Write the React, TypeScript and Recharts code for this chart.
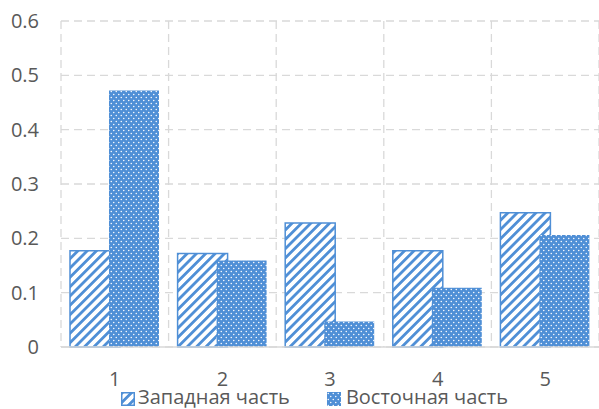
import React from "react";
import { BarChart, Bar, XAxis, YAxis, CartesianGrid, Legend } from "recharts";

const categories = ["1", "2", "3", "4", "5"];
const westValues = [0.177, 0.172, 0.228, 0.177, 0.247];
const eastValues = [0.472, 0.159, 0.047, 0.109, 0.206];
const yTicks = [0, 0.1, 0.2, 0.3, 0.4, 0.5, 0.6];
const seriesNames = ["Западная часть", "Восточная часть"];

const data = categories.map((c, i) => ({ cat: c, west: westValues[i], east: eastValues[i] }));

const BLUE = "#4f8fd6";
const TEXT = "#595959";
const FONT = "'Open Sans', 'Noto Sans', sans-serif";
const FS = 20;

const Patterns = () => (
  <svg width={0} height={0} style={{ position: "absolute" }}>
    <defs>
      <pattern id="hatch" patternUnits="userSpaceOnUse" width={6.6} height={6.6} patternTransform="rotate(45)">
        <rect width={6.6} height={6.6} fill="#ffffff" />
        <rect x={0} y={0} width={2.8} height={6.6} fill={BLUE} />
      </pattern>
      <pattern id="dots" patternUnits="userSpaceOnUse" width={5} height={6}>
        <rect width={5} height={6} fill={BLUE} />
        <circle cx={1.25} cy={1.5} r={0.75} fill="#ffffff" />
        <circle cx={3.75} cy={4.5} r={0.75} fill="#ffffff" />
      </pattern>
    </defs>
  </svg>
);

const LegendContent = () => (
  <div style={{ display: "flex", alignItems: "center", fontFamily: FONT, fontSize: FS, color: TEXT, lineHeight: "22px", height: 22, whiteSpace: "nowrap" }}>
    <svg width={14} height={14} style={{ marginRight: 3, marginTop: 3 }}>
      <rect x={0.75} y={0.75} width={12.5} height={12.5} fill="url(#hatch)" stroke={BLUE} strokeWidth={1.5} />
    </svg>
    <span style={{ marginRight: 37 }}>{seriesNames[0]}</span>
    <svg width={14} height={14} style={{ marginRight: 5, marginTop: 3 }}>
      <rect x={0} y={0} width={14} height={14} fill="url(#dots)" />
    </svg>
    <span>{seriesNames[1]}</span>
  </div>
);

export default function App() {
  return (
    <div style={{ position: "absolute", left: 0, top: 0, width: 599, height: 409, background: "#fff" }}>
      <Patterns />
      <BarChart
        width={599}
        height={409}
        data={data}
        margin={{ top: 21, right: 0, left: 0, bottom: 1 }}
        barCategoryGap={9}
        barGap={-11}
      >
        <CartesianGrid
          stroke="#d9d9d9"
          strokeDasharray="8 5"
          strokeWidth={1.3}
          verticalCoordinatesGenerator={(props: any) => {
            const off = props.offset;
            const n = categories.length;
            return Array.from({ length: n + 1 }, (_, i) => off.left + (i * off.width) / n);
          }}
        />
        <XAxis
          dataKey="cat"
          height={39}
          tickLine={false}
          tickSize={0}
          tickMargin={25}
          axisLine={{ stroke: "#d9d9d9", strokeWidth: 1.3 }}
          tick={{ fill: TEXT, fontSize: FS, fontFamily: FONT }}
        />
        <YAxis
          width={61}
          domain={[0, 0.6]}
          ticks={yTicks}
          axisLine={false}
          tickLine={false}
          tickSize={0}
          tickMargin={22}
          tick={{ fill: TEXT, fontSize: FS, fontFamily: FONT }}
          tickFormatter={(v: number) => (v === 0 ? "0" : String(Number(v.toFixed(1))))}
        />
        <Legend
          verticalAlign="bottom"
          align="left"
          height={22}
          wrapperStyle={{ left: 121, bottom: 1, width: 460, height: 22 }}
          content={() => <LegendContent />}
        />
        <Bar dataKey="west" name={seriesNames[0]} fill="url(#hatch)" stroke={BLUE} strokeWidth={1.5} isAnimationActive={false} />
        <Bar dataKey="east" name={seriesNames[1]} fill="url(#dots)" isAnimationActive={false} />
      </BarChart>
    </div>
  );
}
